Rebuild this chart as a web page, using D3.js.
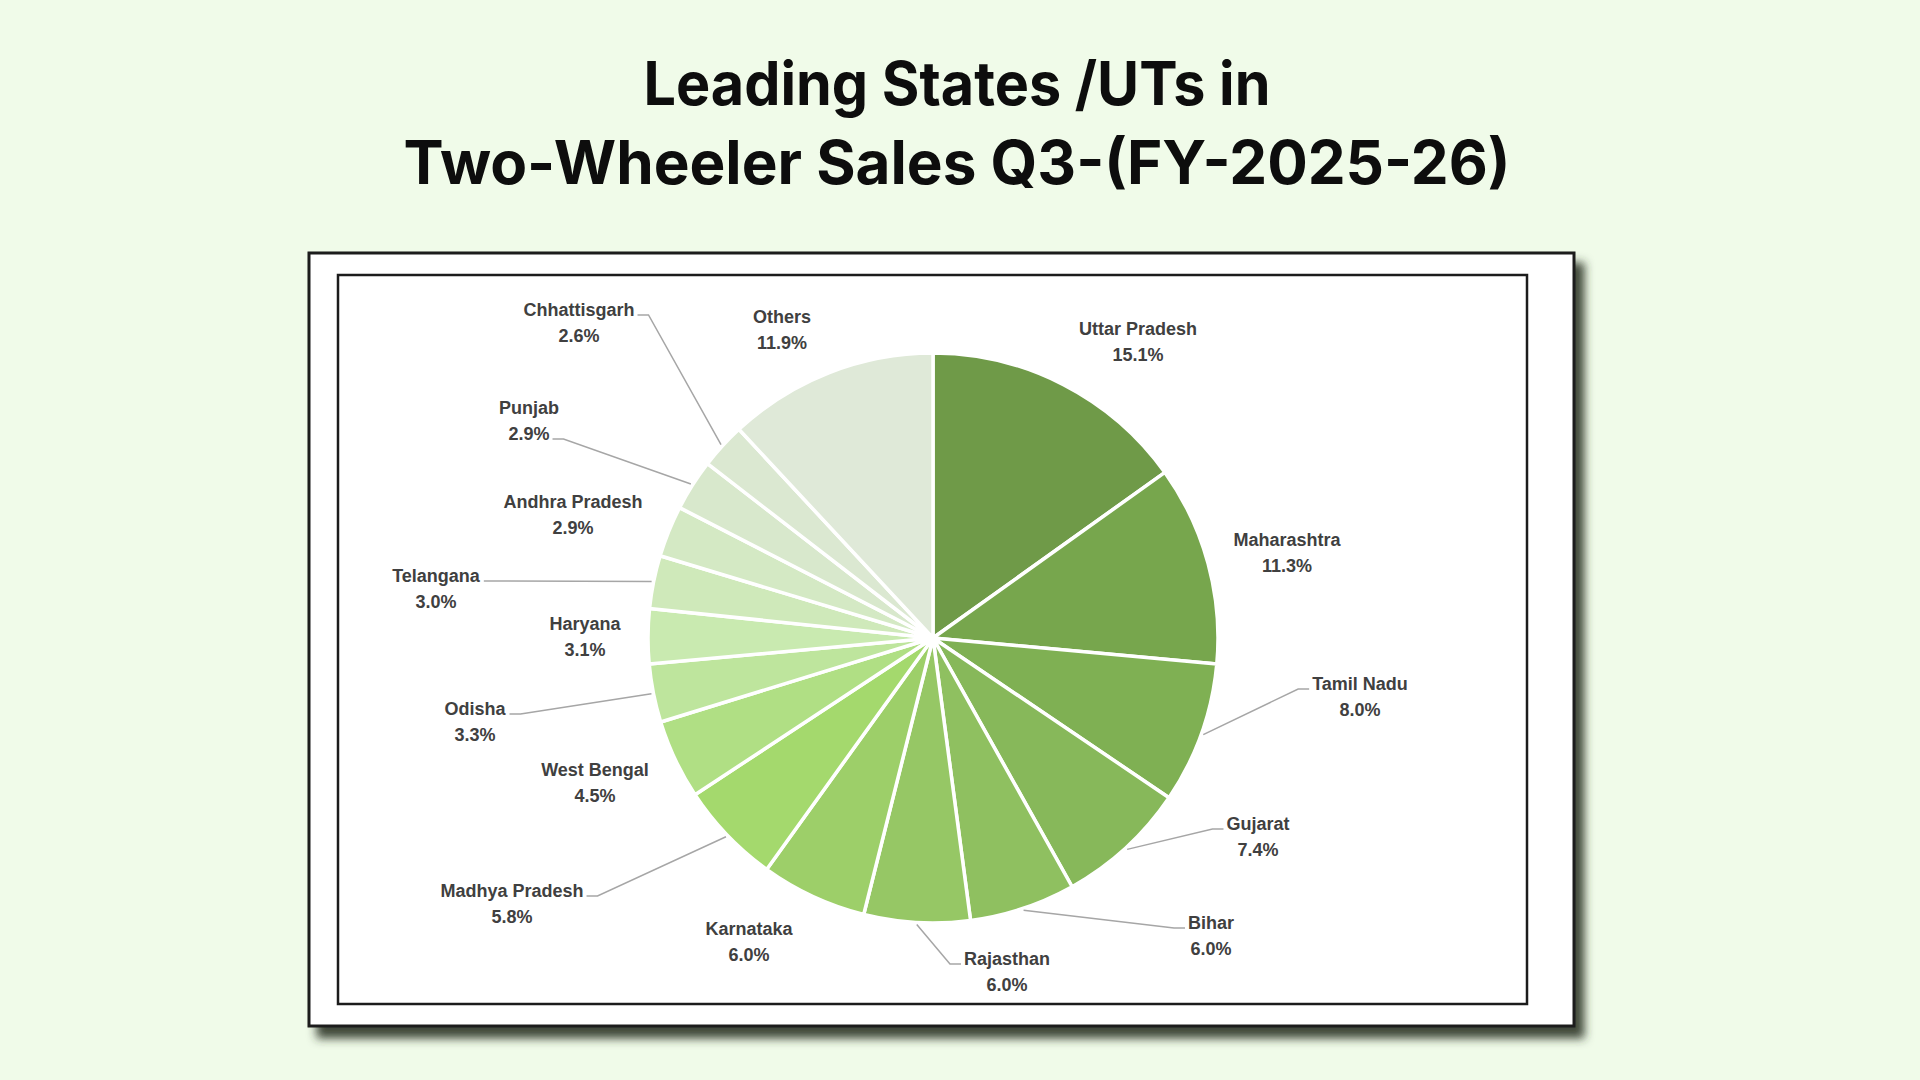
<!DOCTYPE html>
<html>
<head>
<meta charset="utf-8">
<script src="https://cdn.jsdelivr.net/npm/d3@7"></script>
<style>
  body { margin: 0; background: #f0fbe9; }
  svg { display: block; }
</style>
</head>
<body>
<script>
const w = 1920;
const h = 1080;

// data, clockwise from 12 o'clock
const states = ["Uttar Pradesh", "Maharashtra", "Tamil Nadu", "Gujarat", "Bihar", "Rajasthan",
                "Karnataka", "Madhya Pradesh", "West Bengal", "Odisha", "Haryana", "Telangana",
                "Andhra Pradesh", "Punjab", "Chhattisgarh", "Others"];
const shares = [15.1, 11.3, 8.0, 7.4, 6.0, 6.0, 6.0, 5.8, 4.5, 3.3, 3.1, 3.0, 2.9, 2.9, 2.6, 11.9];
const sliceColors = ["#6f9a48", "#77a64d", "#7fb053", "#87b85a", "#8fc060", "#96c765",
                     "#9dcf69", "#a4d96d", "#b0df84", "#bee59d", "#c9eab0", "#cfe9ba",
                     "#d4e9c4", "#d8e8cc", "#dbe8d1", "#dfe9d8"];
const titleLines = ["Leading States /UTs in", "Two-Wheeler Sales Q3-(FY-2025-26)"];

// label layout: name line centre relative to pie centre
const labelOffsets = [[205, -309], [354, -98], [427, 46], [325, 186], [278, 285], [74, 321],
                      [-184, 291], [-421, 253], [-338, 132], [-458, 71], [-348, -14], [-497, -62],
                      [-360, -136], [-404, -230], [-354, -328], [-151, -321]];
// leader line: which side of the label it joins and on which line (0 name, 1 pct)
const leaders = [null, null, {side: "start", line: 0}, {side: "start", line: 0},
                 {side: "start", line: 0}, {side: "start", line: 0}, null,
                 {side: "end", line: 0}, null, {side: "end", line: 0}, null,
                 {side: "end", line: 0}, null, {side: "end", line: 1},
                 {side: "end", line: 0}, null];

const data = states.map((s, i) => ({name: s, share: shares[i], color: sliceColors[i],
                                    off: labelOffsets[i], leader: leaders[i]}));

const svg = d3.select("body")
              .append("svg")
              .attr("width", w)
              .attr("height", h);

svg.append("rect").attr("width", w).attr("height", h).attr("fill", "#f0fbe9");

const defs = svg.append("defs");
const shadow = defs.append("filter").attr("id", "shadow")
    .attr("x", "-5%").attr("y", "-5%").attr("width", "115%").attr("height", "120%");
shadow.append("feGaussianBlur").attr("in", "SourceAlpha").attr("stdDeviation", 5).attr("result", "b");
shadow.append("feOffset").attr("in", "b").attr("dx", 9).attr("dy", 11).attr("result", "o");
shadow.append("feFlood").attr("flood-color", "#2d3527").attr("flood-opacity", 0.9);
shadow.append("feComposite").attr("in2", "o").attr("operator", "in").attr("result", "s");
const merge = shadow.append("feMerge");
merge.append("feMergeNode").attr("in", "s");
merge.append("feMergeNode").attr("in", "SourceGraphic");

// title
const titleWidths = [627, 1107];
svg.selectAll("text.title")
    .data(titleLines)
    .enter()
    .append("text")
    .attr("class", "title")
    .attr("x", 957)
    .attr("y", (d, i) => 105 + i * 79)
    .attr("text-anchor", "middle")
    .attr("font-family", "Inter, Lato, sans-serif")
    .attr("font-weight", 700)
    .attr("font-size", 60)
    .attr("fill", "#0d0d0d")
    .attr("textLength", (d, i) => titleWidths[i])
    .attr("lengthAdjust", "spacingAndGlyphs")
    .text(d => d);

// frames
svg.append("rect")
    .attr("x", 309).attr("y", 253).attr("width", 1265).attr("height", 773)
    .attr("fill", "#ffffff").attr("stroke", "#1c1c1c").attr("stroke-width", 3)
    .attr("filter", "url(#shadow)");
svg.append("rect")
    .attr("x", 338).attr("y", 275).attr("width", 1189).attr("height", 729)
    .attr("fill", "#ffffff").attr("stroke", "#1c1c1c").attr("stroke-width", 2.5);

// pie
const cx = 933, cy = 638, r = 285;
const g = svg.append("g").attr("transform", "translate(" + cx + "," + cy + ")");

const pie = d3.pie().sort(null).value(d => d.share);
const arc = d3.arc().innerRadius(0).outerRadius(r);
const arcs = pie(data);

g.selectAll("path.slice")
    .data(arcs)
    .enter()
    .append("path")
    .attr("class", "slice")
    .attr("d", arc)
    .attr("fill", d => d.data.color)
    .attr("stroke", "#ffffff")
    .attr("stroke-width", 3.5)
    .attr("stroke-linejoin", "round");

// labels
const labelFont = "'Liberation Sans Narrow', 'Arial Narrow', sans-serif";
const labels = g.selectAll("g.label")
    .data(arcs)
    .enter()
    .append("g")
    .attr("class", "label");

labels.append("text")
    .attr("class", "name")
    .attr("x", d => d.data.off[0])
    .attr("y", d => d.data.off[1])
    .attr("dy", "0.35em")
    .attr("text-anchor", "middle")
    .attr("font-family", labelFont)
    .attr("font-weight", 700)
    .attr("font-size", 18)
    .attr("fill", "#404040")
    .text(d => d.data.name);

labels.append("text")
    .attr("class", "pct")
    .attr("x", d => d.data.off[0])
    .attr("y", d => d.data.off[1] + 26)
    .attr("dy", "0.35em")
    .attr("text-anchor", "middle")
    .attr("font-family", labelFont)
    .attr("font-weight", 700)
    .attr("font-size", 18)
    .attr("fill", "#404040")
    .text(d => d.data.share.toFixed(1) + "%");

// leader lines
labels.filter(d => d.data.leader).each(function(d) {
    const L = d.data.leader;
    const t = d3.select(this).select(L.line === 0 ? "text.name" : "text.pct").node();
    const bb = t.getBBox();
    const y = d.data.off[1] + L.line * 26 + 5;
    const x0 = L.side === "start" ? bb.x - 3 : bb.x + bb.width + 3;
    const x1 = L.side === "start" ? x0 - 11 : x0 + 11;
    const a = (d.startAngle + d.endAngle) / 2;
    const px = Math.sin(a) * (r + 2);
    const py = -Math.cos(a) * (r + 2);
    d3.select(this).append("path")
        .attr("d", "M" + x0 + "," + y + "L" + x1 + "," + y + "L" + px + "," + py)
        .attr("fill", "none")
        .attr("stroke", "#a6a6a6")
        .attr("stroke-width", 1.5);
});
</script>
</body>
</html>
